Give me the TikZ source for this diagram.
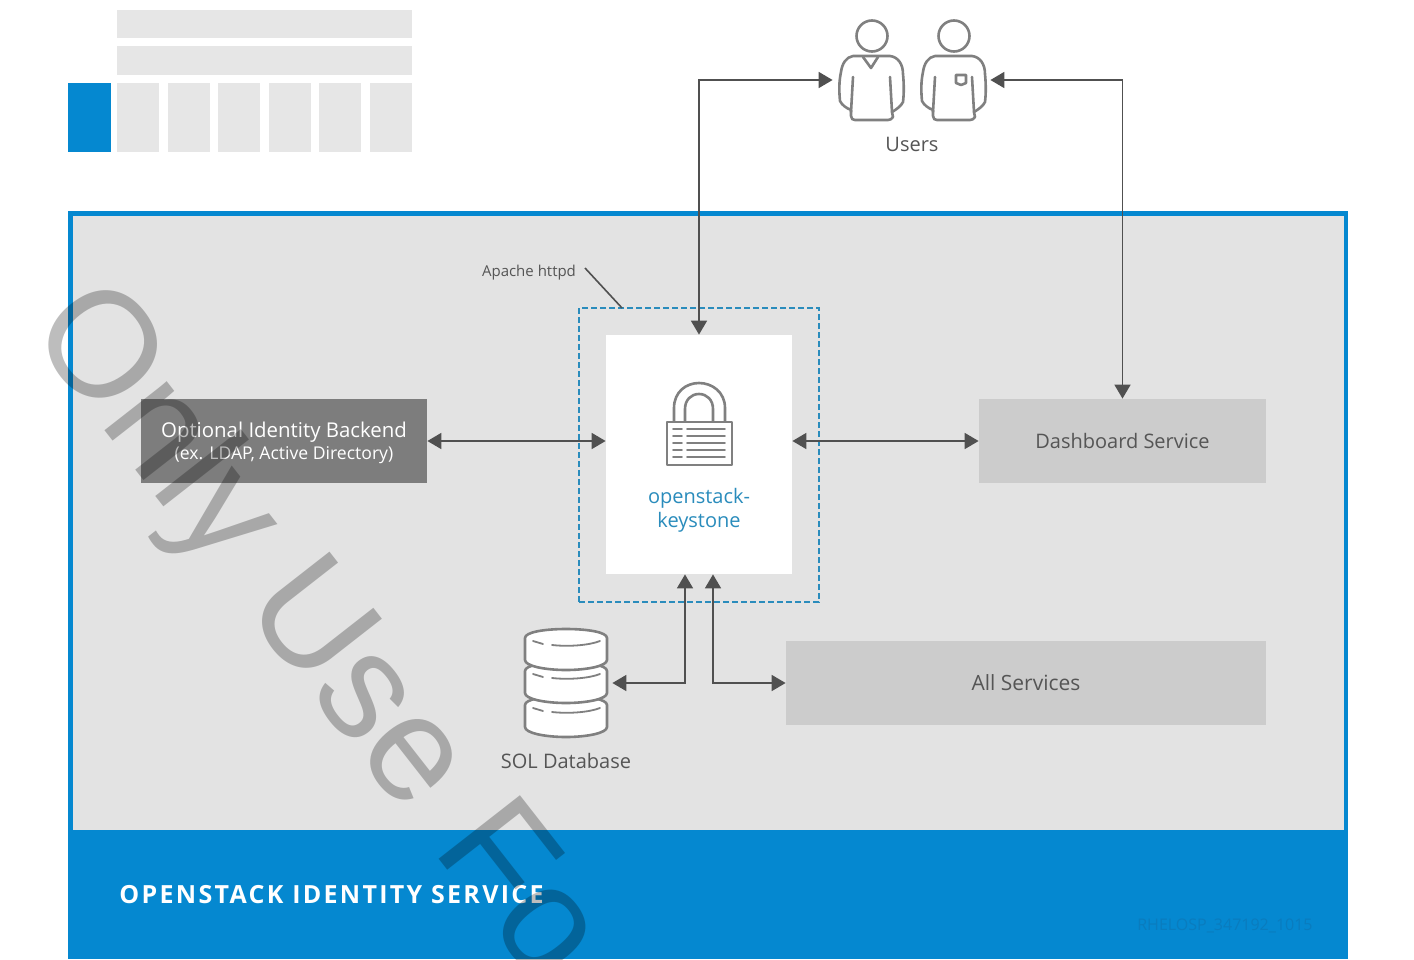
\documentclass[tikz,border=0pt]{standalone}
\usepackage{fontspec}
\setmainfont{Open Sans}
\usetikzlibrary{arrows.meta}
\definecolor{rhblue}{HTML}{0588D0}
\definecolor{panel}{HTML}{E3E3E3}
\definecolor{legend}{HTML}{E6E6E6}
\definecolor{soft}{HTML}{CCCCCC}
\definecolor{darkbox}{HTML}{7D7D7D}
\definecolor{iconline}{HTML}{808080}
\definecolor{wire}{HTML}{505050}
\definecolor{txt}{HTML}{555555}
\definecolor{teal}{HTML}{2A8CBC}
\definecolor{codeblue}{HTML}{0A7CBE}

\begin{document}
\begin{tikzpicture}[x=0.5pt,y=-0.5pt]

\tikzset{block/.style = {shape=rectangle,inner sep=0pt,minimum height=42pt,font=\fontsize{10}{12}\selectfont}}
\tikzset{link/.style = {<->,>={Triangle[length=7pt,width=8pt]},draw=wire,line width=0.9pt}}
\tikzset{icon/.style = {draw=iconline,line width=1.3pt,line join=round,line cap=round}}
\tikzset{hold/.style = {inner sep=0pt,minimum height=50pt}}
\tikzset{legendbox/.style = {fill=legend,draw=none}}
\tikzset{person/.pic = {
  \draw[icon] (0,0) circle[radius=15.5];
  \draw[icon] (-19,20) -- (18,20) .. controls (26,21) and (31,28) .. (31,38)
    .. controls (32,48) and (32,58) .. (31,66) .. controls (29,70) and (25,73) .. (20,76)
    -- (21,81) .. controls (20,83) and (18,84) .. (16,84) -- (-17,84)
    .. controls (-19,84) and (-21,83) .. (-21,80) -- (-21,74)
    .. controls (-26,72) and (-30,69) .. (-32,65) .. controls (-33,55) and (-33,45) .. (-31,36)
    .. controls (-30,28) and (-26,21) .. (-19,20);
  \draw[icon] (-19,41) -- (-21,76);
  \draw[icon] (18,41) -- (20,76);
}}

\useasboundingbox (0,0) rectangle (1414,959);
\clip (0,0) rectangle (1414,959);
\fill[white] (0,0) rectangle (1414,959);

% legend
\fill[legendbox] (117,10) rectangle (412,38);
\fill[legendbox] (117,46) rectangle (412,75);
\fill[rhblue] (68,83) rectangle (111,152);
\foreach \x in {117,168,218,269,319,370}
  \fill[legendbox] (\x,83) rectangle +(42,69);

% frame
\fill[rhblue] (68,211) rectangle (1348,959);
\fill[panel] (73,216) rectangle (1344,830);

% boxes
\node[block,fill=darkbox,minimum width=143pt] (backend) at (284,441) {};
\node[text=white,inner sep=0pt,align=center] (backendlabel) at (284,443)
  {{\fontsize{10.2}{12}\selectfont Optional Identity Backend}\\[-1pt]{\fontsize{8.8}{10}\selectfont (ex. LDAP, Active Directory)}};
\node[block,fill=soft,text=txt,minimum width=143.5pt] (dashboard) at (1122.5,441) {Dashboard Service};
\node[block,fill=soft,text=txt,minimum width=240pt] (allsvc) at (1026,683) {\fontsize{10.5}{12}\selectfont All Services};
\node[shape=rectangle,fill=white,inner sep=0pt,minimum width=93pt,minimum height=119.5pt] (keystone) at (699,454.5) {};
\node[shape=rectangle,draw=teal,dash pattern=on 3pt off 1.5pt,line width=1pt,inner sep=0pt,minimum width=120pt,minimum height=147pt] (httpd) at (699,455) {};

% keystone
\draw[icon] (674,422) -- (674,408) .. controls (674,392) and (686,383) .. (699,383)
  .. controls (712,383) and (725,392) .. (725,408) -- (725,422);
\draw[icon] (685,422) -- (685,409) .. controls (685,400) and (691,394) .. (699,394)
  .. controls (707,394) and (713,400) .. (713,409) -- (713,422);
\draw[icon,fill=white] (667,422) rectangle (732,465);
\foreach \y in {429,436,443,450,457} {
  \draw[icon,line width=0.9pt] (673,\y) -- (682,\y);
  \draw[icon,line width=0.9pt] (687,\y) -- (725,\y);
}
\node[text=teal,align=center,font=\fontsize{10}{12}\selectfont] (keylabel) at (699,510) {openstack-\\keystone};

% users
\node[hold,minimum width=38pt] (user1) at (871,80) {};
\node[hold,minimum width=37pt] (user2) at (953,80) {};
\pic at (872,36) {person};
\pic at (954,36) {person};
\draw[icon] (863,57) -- (871,68) -- (878,57);
\draw[icon] (956,75) -- (966,75) -- (966,83) -- (961,85) -- (956,83) -- cycle;
\node[text=txt,font=\fontsize{10}{12}\selectfont] (userlabel) at (912,144) {Users};

% database
\foreach \t in {67,33,0} {
  \draw[icon,fill=white] (525,638+\t) .. controls (525,632+\t) and (545,629+\t) .. (566,629+\t)
    .. controls (587,629+\t) and (607,632+\t) .. (607,638+\t) -- (607,660+\t)
    .. controls (607,666+\t) and (587,670+\t) .. (566,670+\t)
    .. controls (545,670+\t) and (525,666+\t) .. (525,660+\t) -- cycle;
  \draw[icon,line width=0.9pt] (533,641+\t) -- (543,644+\t);
  \draw[icon,line width=0.9pt] (552,645+\t) .. controls (570,647+\t) and (590,645+\t) .. (600,641+\t);
}
\node[hold,minimum width=46pt] (db) at (566,683) {};
\node[text=txt,font=\fontsize{10}{12}\selectfont] (dblabel) at (566,761) {SOL Database};

% apache
\node[text=txt,font=\fontsize{7.5}{9}\selectfont] (apache) at (529,273) {Apache httpd};
\draw[wire,line width=0.8pt] (apache.east) ++(2,-5) -- (622,308);

% connectors
\draw[link] (keystone.north) |- (user1.west);
\draw[link] (dashboard.north) |- (user2.east);
\draw[link] (backend.east) -- (backend.east -| keystone.west);
\draw[link] (dashboard.west) -- (dashboard.west -| keystone.east);
\draw[link] (db.east) -| ([xshift=-7pt]keystone.south);
\draw[link] (allsvc.west) -| ([xshift=7pt]keystone.south);

% footer
\node[text=white,anchor=west,inner sep=0pt,font=\bfseries\fontsize{12.5}{15}\selectfont] (footer) at (119,895) {\addfontfeatures{LetterSpace=9.2}OPENSTACK IDENTITY SERVICE};
\node[text=codeblue,anchor=east,inner sep=0pt,font=\fontsize{8}{10}\selectfont] (code) at (1313,926) {RHELOSP\_347192\_1015};

% watermark
\node[anchor=base west,rotate=-52,inner sep=0pt,text=black,text opacity=0.26] (mark) at (26,330)
  {\fontspec{Liberation Sans}\fontsize{75}{81}\selectfont Only Use Fo};

\end{tikzpicture}
\end{document}
